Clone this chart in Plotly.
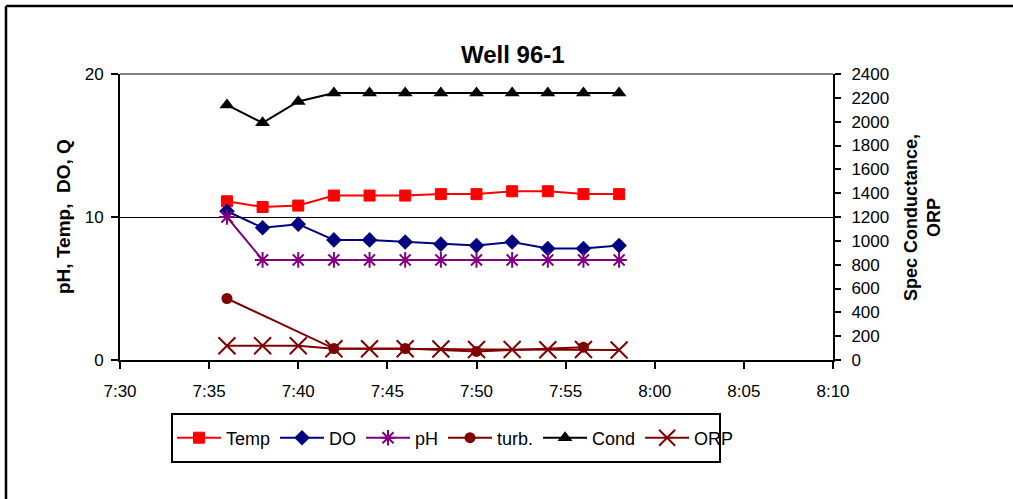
import plotly.graph_objects as go

# ---- data ----
times = ["07:36", "07:38", "07:40", "07:42", "07:44", "07:46",
         "07:48", "07:50", "07:52", "07:54", "07:56", "07:58"]
temp = [11.1, 10.7, 10.8, 11.5, 11.5, 11.5, 11.6, 11.6, 11.8, 11.8, 11.6, 11.6]
do_ = [10.4, 9.25, 9.5, 8.4, 8.4, 8.25, 8.1, 8.0, 8.25, 7.8, 7.8, 8.0]
ph = [10.0, 7.0, 7.0, 7.0, 7.0, 7.0, 7.0, 7.0, 7.0, 7.0, 7.0, 7.0]
turb = [4.3, None, None, 0.8, None, 0.8, None, 0.6, None, None, 0.9, None]
cond = [2140, 1990, 2170, 2240, 2240, 2240, 2240, 2240, 2240, 2240, 2240, 2240]
orp = [120, 120, 120, 95, 95, 95, 92, 88, 88, 86, 88, 84]

title = "Well 96-1"
left_title = "pH, Temp,\u00a0 DO, Q"
right_title = "Spec Conductance,<br>ORP"
x_range = ["2000-01-01 07:30", "2000-01-01 08:10"]
left_range = [0, 20]
right_range = [0, 2400]

x = ["2000-01-01 " + t for t in times]

FONT = "Liberation Sans, Arial, sans-serif"
W, H = 1013, 499
L, R, T, B = 120, 833, 74, 360  # plot area in px


def px_x(p):
    return (p - L) / (R - L)


def px_y(p):
    return (B - p) / (B - T)


fig = go.Figure()

fig.add_trace(go.Scatter(x=x, y=temp, name="Temp", mode="lines+markers",
                         line=dict(color="#FF0000", width=2),
                         marker=dict(symbol="square", size=11, color="#FF0000",
                                     line=dict(color="#FF0000", width=1))))
fig.add_trace(go.Scatter(x=x, y=do_, name="DO", mode="lines+markers",
                         line=dict(color="#000080", width=2),
                         marker=dict(symbol="diamond", size=12, color="#000080")))
fig.add_trace(go.Scatter(x=x, y=ph, name="pH", mode="lines+markers",
                         line=dict(color="#800080", width=2),
                         marker=dict(symbol="asterisk-open", size=13,
                                     line=dict(color="#800080", width=2))))
fig.add_trace(go.Scatter(x=x, y=turb, name="turb.", mode="lines+markers",
                         connectgaps=True,
                         line=dict(color="#800000", width=2),
                         marker=dict(symbol="circle", size=11, color="#800000")))
fig.add_trace(go.Scatter(x=x, y=cond, name="Cond", mode="lines+markers",
                         yaxis="y2",
                         line=dict(color="#000000", width=2),
                         marker=dict(symbol="triangle-up", size=13, color="#000000")))
fig.add_trace(go.Scatter(x=x, y=orp, name="ORP", mode="lines+markers",
                         yaxis="y2",
                         line=dict(color="#800000", width=2),
                         marker=dict(symbol="x-thin-open", size=17,
                                     line=dict(color="#800000", width=2))))

tickfont = dict(family=FONT, size=17, color="black")

fig.update_layout(
    width=W, height=H,
    margin=dict(l=L, r=W - R, t=T, b=H - B, autoexpand=False),
    paper_bgcolor="white", plot_bgcolor="white",
    font=dict(family=FONT, size=17, color="black"),
    showlegend=True,
    legend=dict(orientation="h", x=px_x(172), xanchor="left",
                y=px_y(438), yanchor="middle",
                bgcolor="rgba(0,0,0,0)", borderwidth=0,
                font=dict(family=FONT, size=18, color="black"),
                itemwidth=44, tracegroupgap=0),
    xaxis=dict(type="date", range=x_range, dtick=5 * 60 * 1000,
               tickformat="%-H:%M", tickfont=tickfont,
               showgrid=False, zeroline=False,
               showline=True, linecolor="black", linewidth=2,
               ticks="outside", ticklen=7, tickwidth=2, tickcolor="black",
               ticklabelstandoff=8),
    xaxis3=dict(type="date", range=x_range, dtick=5 * 60 * 1000,
                overlaying="x", anchor="y", side="bottom",
                showticklabels=False, showgrid=False, zeroline=False,
                showline=False, ticks="inside", ticklen=7, tickwidth=2,
                tickcolor="black"),
    xaxis2=dict(range=[0, 713 / 54], dtick=1, tick0=0,
                overlaying="x", anchor="y", side="bottom",
                showticklabels=False, showgrid=False, zeroline=False,
                showline=False, ticks="outside", ticklen=4, tickwidth=2,
                tickcolor="black"),
    xaxis4=dict(range=[0, 713 / 54], dtick=1, tick0=0,
                overlaying="x", anchor="y", side="bottom",
                showticklabels=False, showgrid=False, zeroline=False,
                showline=False, ticks="inside", ticklen=5, tickwidth=2,
                tickcolor="black"),
    yaxis=dict(range=left_range, dtick=10, tickfont=tickfont,
               showgrid=True, gridcolor="black", gridwidth=1, zeroline=False,
               showline=True, linecolor="black", linewidth=2,
               ticks="outside", ticklen=7, tickwidth=2, tickcolor="black",
               ticklabelstandoff=4),
    yaxis3=dict(range=left_range, dtick=10, overlaying="y", anchor="x",
                side="left", showticklabels=False, showgrid=False,
                zeroline=False, showline=False,
                ticks="inside", ticklen=7, tickwidth=2, tickcolor="black"),
    yaxis2=dict(range=right_range, dtick=200, tickfont=tickfont,
                overlaying="y", anchor="x", side="right",
                showgrid=False, zeroline=False,
                showline=True, linecolor="black", linewidth=2,
                ticks="outside", ticklen=6, tickwidth=2, tickcolor="black",
                ticklabelstandoff=7),
    yaxis4=dict(range=right_range, dtick=200, overlaying="y", anchor="x",
                side="right", showticklabels=False, showgrid=False,
                zeroline=False, showline=False,
                ticks="inside", ticklen=6, tickwidth=2, tickcolor="black"),
)

shapes = [
    # gray top border of plot area
    dict(type="line", xref="paper", yref="paper", x0=0, x1=1, y0=1, y1=1,
         line=dict(color="#808080", width=2), layer="above"),
    # outer chart border: only top and left edges fall inside the picture
    dict(type="line", xref="paper", yref="paper",
         x0=px_x(6), x1=px_x(1100), y0=px_y(6), y1=px_y(6),
         line=dict(color="black", width=2.5), layer="below"),
    dict(type="line", xref="paper", yref="paper",
         x0=px_x(6), x1=px_x(6), y0=px_y(600), y1=px_y(6),
         line=dict(color="black", width=2.5), layer="below"),
    # legend box
    dict(type="rect", xref="paper", yref="paper",
         x0=px_x(172), x1=px_x(720), y0=px_y(462), y1=px_y(414),
         line=dict(color="black", width=2), layer="below"),
]
fig.update_layout(shapes=shapes)

fig.add_annotation(text="<b>" + title + "</b>", xref="paper", yref="paper",
                   x=px_x(513), y=px_y(55), xanchor="center", yanchor="middle",
                   showarrow=False, font=dict(family=FONT, size=24, color="black"))
fig.add_annotation(text="<b>" + left_title + "</b>", xref="paper", yref="paper",
                   x=px_x(63), y=px_y(217), xanchor="center", yanchor="middle",
                   textangle=-90, showarrow=False,
                   font=dict(family=FONT, size=19, color="black"))
fig.add_annotation(text="<b>" + right_title + "</b>", xref="paper", yref="paper",
                   x=px_x(922), y=px_y(218), xanchor="center", yanchor="middle",
                   textangle=-90, showarrow=False,
                   font=dict(family=FONT, size=18, color="black"))

fig.write_html("out.html",
               config={"displayModeBar": False},
               post_script="document.body.style.margin='0px';"
                           "document.body.style.overflow='hidden';")
